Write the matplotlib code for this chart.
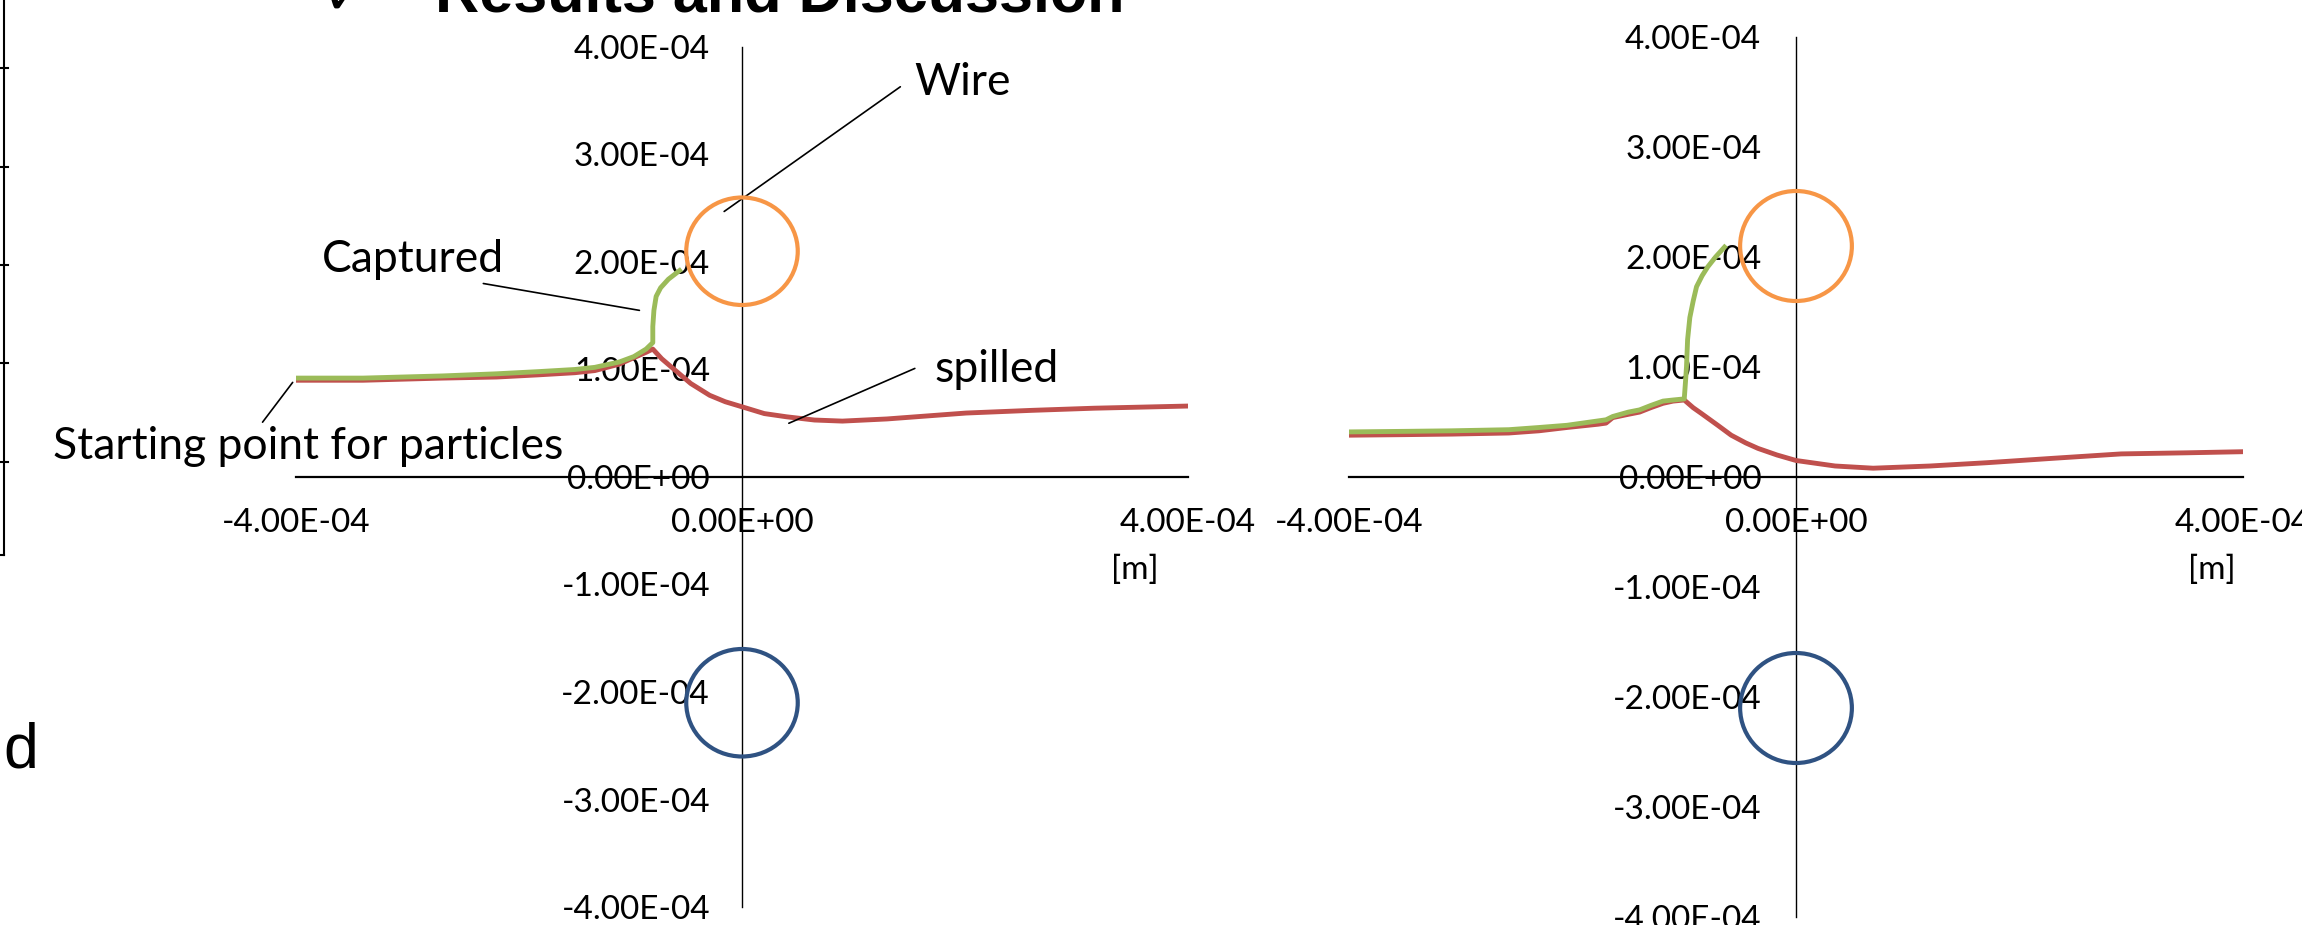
import matplotlib
matplotlib.use("Agg")
import matplotlib.pyplot as plt
from matplotlib.patches import Circle
from matplotlib.lines import Line2D
import numpy as np

plt.rcParams['font.family'] = ['Lato', 'DejaVu Sans']

# particle trajectories, units of 1e-4 m
left_captured_x = [-4.00, -3.40, -2.69, -2.20, -1.83, -1.50, -1.32, -1.10, -0.97, -0.86, -0.80,
                   -0.80, -0.79, -0.77, -0.73, -0.66, -0.56]
left_captured_y = [0.92, 0.92, 0.94, 0.96, 0.98, 1.00, 1.02, 1.07, 1.12, 1.19, 1.25,
                   1.40, 1.55, 1.68, 1.76, 1.84, 1.92]
left_spilled_x = [-4.00, -3.40, -2.69, -2.20, -1.83, -1.50, -1.32, -1.10, -0.97, -0.86, -0.80,
                  -0.72, -0.63, -0.46, -0.29, -0.15, 0.01, 0.20, 0.40, 0.65, 0.90, 1.30,
                  2.01, 2.60, 3.16, 4.00]
left_spilled_y = [0.90, 0.90, 0.92, 0.93, 0.95, 0.97, 0.99, 1.05, 1.11, 1.16, 1.19,
                  1.10, 1.02, 0.87, 0.76, 0.70, 0.65, 0.59, 0.56, 0.53, 0.52, 0.54,
                  0.595, 0.62, 0.64, 0.66]

right_captured_x = [-4.00, -3.50, -3.08, -2.57, -2.30, -2.05, -1.77, -1.70, -1.64, -1.50, -1.40,
                    -1.30, -1.19, -1.10, -1.00, -0.99, -0.98, -0.97, -0.95, -0.92, -0.89,
                    -0.84, -0.79, -0.72, -0.64]
right_captured_y = [0.41, 0.415, 0.42, 0.43, 0.45, 0.47, 0.51, 0.52, 0.55, 0.59, 0.61,
                    0.65, 0.69, 0.70, 0.71, 0.85, 1.00, 1.25, 1.45, 1.60, 1.73,
                    1.83, 1.91, 2.00, 2.09]
right_spilled_x = [-4.00, -3.50, -3.08, -2.57, -2.30, -2.05, -1.77, -1.70, -1.64, -1.50, -1.40,
                   -1.30, -1.19, -1.10, -1.00, -0.92, -0.85, -0.70, -0.58, -0.45, -0.34,
                   -0.17, 0.00, 0.35, 0.69, 1.20, 1.71, 2.30, 2.91, 3.50, 4.00]
right_spilled_y = [0.38, 0.385, 0.39, 0.40, 0.42, 0.45, 0.48, 0.49, 0.54, 0.57, 0.59,
                   0.63, 0.67, 0.69, 0.70, 0.63, 0.58, 0.47, 0.38, 0.31, 0.26,
                   0.20, 0.15, 0.10, 0.08, 0.10, 0.13, 0.17, 0.21, 0.22, 0.23]

# wires: centre y and radius, units of 1e-4 m
wire_y = [2.1, -2.1]
wire_r = 0.5
wire_colors = ['#F79646', '#2F5282']

x_ticks = [-4e-4, 0.0, 4e-4]
y_ticks = [-4e-4, -3e-4, -2e-4, -1e-4, 0.0, 1e-4, 2e-4, 3e-4, 4e-4]

W, H = 2302, 925
fig = plt.figure(figsize=(W / 100, H / 100), dpi=100)


def make_axes(left, right, bottom, top, ypad):
    ax = fig.add_axes([left / W, 1 - bottom / H, (right - left) / W, (bottom - top) / H])
    ax.set_xlim(-4e-4, 4e-4)
    ax.set_ylim(-4e-4, 4e-4)
    ax.patch.set_alpha(0)
    for s in ['top', 'right']:
        ax.spines[s].set_visible(False)
    ax.spines['left'].set_position('zero')
    ax.spines['bottom'].set_position('zero')
    ax.spines['left'].set_linewidth(1.0)
    ax.spines['bottom'].set_linewidth(1.6)
    ax.set_xticks(x_ticks, ['%.2E' % v for v in x_ticks])
    ax.set_yticks(y_ticks, ['%.2E' % v for v in y_ticks])
    ax.tick_params(axis='x', length=0, pad=22, labelsize=24)
    ax.tick_params(axis='y', length=0, pad=ypad, labelsize=24)
    return ax


def draw(ax, cx, cy, sx, sy):
    ax.plot(np.array(sx) * 1e-4, np.array(sy) * 1e-4, color='#C0504D', lw=3.5, zorder=3)
    ax.plot(np.array(cx) * 1e-4, np.array(cy) * 1e-4, color='#9BBB59', lw=3.5, zorder=3)
    for yc, col in zip(wire_y, wire_colors):
        ax.add_patch(Circle((0, yc * 1e-4), wire_r * 1e-4, fill=False, ec=col, lw=3, zorder=4))


ax1 = make_axes(296, 1188, 907, 47, 23)
draw(ax1, left_captured_x, left_captured_y, left_spilled_x, left_spilled_y)
ax1.text(3.52e-4, -0.865e-4, '[m]', ha='center', va='center', fontsize=24)

line = dict(arrowstyle='-', color='black', lw=1.2, shrinkA=0, shrinkB=0)
ax1.text(1.98e-4, 3.55e-4, 'Wire', fontsize=32, ha='center', va='baseline')
ax1.annotate('', xy=(-0.16e-4, 2.47e-4), xytext=(1.42e-4, 3.63e-4), arrowprops=line)
ax1.text(-2.95e-4, 1.91e-4, 'Captured', fontsize=32, ha='center', va='baseline')
ax1.annotate('', xy=(-0.92e-4, 1.55e-4), xytext=(-2.32e-4, 1.80e-4), arrowprops=line)
ax1.text(2.28e-4, 1.0e-4, 'spilled', fontsize=32, ha='center', va='center')
ax1.annotate('', xy=(0.42e-4, 0.50e-4), xytext=(1.55e-4, 1.01e-4), arrowprops=line)
ax1.text(-3.89e-4, 0.17e-4, 'Starting point for particles', fontsize=32, ha='center',
         va='baseline', clip_on=False)
ax1.annotate('', xy=(-4.30e-4, 0.51e-4), xytext=(-4.03e-4, 0.88e-4), arrowprops=line,
             annotation_clip=False)

ax2 = make_axes(1349, 2243, 917, 37, 25)
draw(ax2, right_captured_x, right_captured_y, right_spilled_x, right_spilled_y)
ax2.text(3.72e-4, -0.845e-4, '[m]', ha='center', va='center', fontsize=24)

# slide remnants around the charts
fig.text(435 / W, 1 - 12 / H, 'Results and Discussion', fontsize=44, fontweight='bold',
         family='Liberation Sans', va='baseline', ha='left')
fig.text(346 / W, 1 - 14 / H, '\u2713', fontsize=40, family='DejaVu Sans', va='baseline',
         ha='center')
fig.text(3 / W, 1 - 768 / H, 'd', fontsize=45, family='Liberation Sans', va='baseline', ha='left')
fig.add_artist(Line2D([4 / W, 4 / W], [1, 1 - 555 / H], color='black', lw=1.5))
for ty in [68, 167, 265, 363, 462]:
    fig.add_artist(Line2D([0, 8 / W], [1 - ty / H, 1 - ty / H], color='black', lw=1.5))
fig.add_artist(Line2D([0, 4 / W], [1 - 555 / H, 1 - 555 / H], color='black', lw=1.5))

fig.savefig('out.png', dpi=100)
